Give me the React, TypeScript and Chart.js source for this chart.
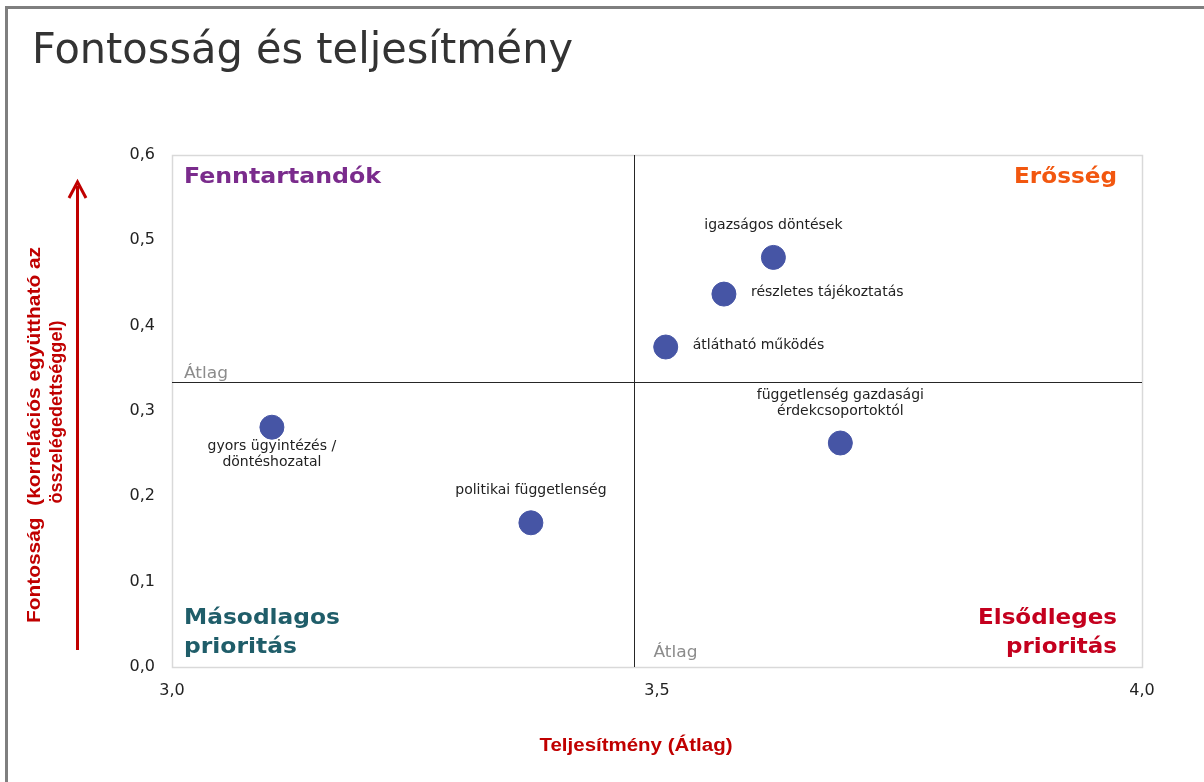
import React, { useEffect, useRef } from "react";
import { Chart, registerables } from "chart.js";

Chart.register(...registerables);

const chartTitle = "Fontosság és teljesítmény";
const itemLabels: string[][] = [
  ["igazságos döntések"],
  ["részletes tájékoztatás"],
  ["átlátható működés"],
  ["függetlenség gazdasági", "érdekcsoportoktól"],
  ["gyors ügyintézés /", "döntéshozatal"],
  ["politikai függetlenség"],
];
const performance = [3.62, 3.569, 3.509, 3.689, 3.103, 3.37];
const importance = [0.48, 0.437, 0.375, 0.2625, 0.281, 0.169];
const labelPlacement = ["above", "right", "right", "above", "below", "above"];
const avgPerformance = 3.476;
const avgImportance = 0.334;
const avgLabel = "Átlag";
const quadrantTopLeft = ["Fenntartandók"];
const quadrantTopRight = ["Erősség"];
const quadrantBottomLeft = ["Másodlagos", "prioritás"];
const quadrantBottomRight = ["Elsődleges", "prioritás"];
const yAxisTitle = ["Fontosság  (korrelációs együttható az", "összelégedettséggel)"];
const xAxisTitle = "Teljesítmény (Átlag)";
const xMin = 3.0, xMax = 4.0, xStep = 0.5;
const yMin = 0.0, yMax = 0.6, yStep = 0.1;

function fillFit(ctx: CanvasRenderingContext2D, text: string, x: number, y: number, font: string, width: number, align: CanvasTextAlign) {
  ctx.save();
  ctx.font = font;
  const w = ctx.measureText(text).width;
  const s = width / w;
  ctx.translate(x, y);
  ctx.scale(s, 1);
  ctx.textAlign = align;
  ctx.fillText(text, 0, 0);
  ctx.restore();
}

const decorPlugin = {
  id: "decor",
  beforeDatasetsDraw(chart: any) {
    const ctx: CanvasRenderingContext2D = chart.ctx;
    const { left, right, top, bottom } = chart.chartArea;
    const xs = chart.scales.x, ys = chart.scales.y;
    ctx.save();
    ctx.strokeStyle = "#d9d9d9";
    ctx.lineWidth = 1.5;
    ctx.strokeRect(left + 0.5, top + 0.5, right - left, bottom - top);
    const ax = Math.round(xs.getPixelForValue(avgPerformance)) + 0.5;
    const ay = Math.round(ys.getPixelForValue(avgImportance)) + 0.5;
    ctx.strokeStyle = "#262626";
    ctx.lineWidth = 1;
    ctx.beginPath();
    ctx.moveTo(ax, top); ctx.lineTo(ax, bottom);
    ctx.moveTo(left, ay); ctx.lineTo(right, ay);
    ctx.stroke();
    ctx.fillStyle = "#8c8c8c";
    ctx.textBaseline = "alphabetic";
    fillFit(ctx, avgLabel, left + 12, ay - 5, "16px 'DejaVu Sans'", 44, "left");
    fillFit(ctx, avgLabel, ax + 19, bottom - 10, "16px 'DejaVu Sans'", 44, "left");
    ctx.restore();
  },
  afterDatasetsDraw(chart: any) {
    const ctx: CanvasRenderingContext2D = chart.ctx;
    const { left, right, top, bottom } = chart.chartArea;
    const xs = chart.scales.x, ys = chart.scales.y;
    ctx.save();
    ctx.fillStyle = "#222222";
    ctx.font = "14px 'DejaVu Sans'";
    ctx.textBaseline = "middle";
    const lh = 16;
    for (let i = 0; i < performance.length; i++) {
      const px = xs.getPixelForValue(performance[i]);
      const py = ys.getPixelForValue(importance[i]);
      const lines = itemLabels[i];
      const pl = labelPlacement[i];
      lines.forEach((ln, k) => {
        if (pl === "above") {
          ctx.textAlign = "center";
          ctx.fillText(ln, px, py - 32 - (lines.length - 1 - k) * lh);
        } else if (pl === "below") {
          ctx.textAlign = "center";
          ctx.fillText(ln, px, py + 19 + k * lh);
        } else {
          ctx.textAlign = "left";
          ctx.fillText(ln, px + 27, py - 2 + k * lh);
        }
      });
    }
    ctx.textBaseline = "middle";
    const qf = "bold 22px 'DejaVu Sans'";
    ctx.fillStyle = "#7a2b8c";
    fillFit(ctx, quadrantTopLeft[0], left + 12, top + 22, qf, 197, "left");
    ctx.fillStyle = "#f2570f";
    fillFit(ctx, quadrantTopRight[0], right - 25, top + 22, qf, 103, "right");
    ctx.fillStyle = "#1f5d69";
    fillFit(ctx, quadrantBottomLeft[0], left + 12, bottom - 49, qf, 156, "left");
    fillFit(ctx, quadrantBottomLeft[1], left + 12, bottom - 20, qf, 113, "left");
    ctx.fillStyle = "#c4001e";
    fillFit(ctx, quadrantBottomRight[0], right - 25, bottom - 49, qf, 139, "right");
    fillFit(ctx, quadrantBottomRight[1], right - 25, bottom - 20, qf, 111, "right");
    ctx.restore();
  },
  afterDraw(chart: any) {
    const ctx: CanvasRenderingContext2D = chart.ctx;
    ctx.save();
    ctx.fillStyle = "#7f7f7f";
    ctx.fillRect(5, 6, 1204, 3);
    ctx.fillRect(5, 6, 3, 782);
    ctx.fillStyle = "#333333";
    ctx.textBaseline = "alphabetic";
    fillFit(ctx, chartTitle, 32, 63, "43px 'DejaVu Sans'", 541, "left");
    ctx.fillStyle = "#c00000";
    ctx.textBaseline = "middle";
    ctx.save();
    ctx.translate(35, 435);
    ctx.rotate(-Math.PI / 2);
    fillFit(ctx, yAxisTitle[0], 0, 0, "bold 18px 'Liberation Sans'", 376, "center");
    ctx.restore();
    ctx.save();
    ctx.translate(57, 412);
    ctx.rotate(-Math.PI / 2);
    fillFit(ctx, yAxisTitle[1], 0, 0, "bold 18px 'Liberation Sans'", 183, "center");
    ctx.restore();
    ctx.strokeStyle = "#c00000";
    ctx.fillStyle = "#c00000";
    ctx.lineWidth = 3;
    ctx.beginPath();
    ctx.moveTo(77.5, 650);
    ctx.lineTo(77.5, 186);
    ctx.stroke();
    ctx.beginPath();
    ctx.moveTo(69, 198);
    ctx.lineTo(77.5, 182);
    ctx.lineTo(86, 198);
    ctx.stroke();
    fillFit(ctx, xAxisTitle, 636, 746, "bold 18px 'Liberation Sans'", 193, "center");
    ctx.restore();
  },
};

const fmt = (v: any) => Number(v).toFixed(1).replace(".", ",");

export default function App() {
  const ref = useRef<HTMLCanvasElement | null>(null);
  useEffect(() => {
    if (!ref.current) return;
    const data = performance.map((x, i) => ({ x, y: importance[i] }));
    const chart = new Chart(ref.current, {
      type: "scatter",
      data: {
        datasets: [
          {
            data,
            backgroundColor: "#4655a5",
            borderColor: "#4655a5",
            pointRadius: 12,
            pointHoverRadius: 12,
          },
        ],
      },
      options: {
        animation: false,
        responsive: true,
        maintainAspectRatio: false,
        layout: { padding: { left: 0, top: 155, right: 62, bottom: 0 } },
        plugins: { legend: { display: false }, tooltip: { enabled: false }, title: { display: false } },
        scales: {
          x: {
            type: "linear",
            min: xMin,
            max: xMax,
            grid: { display: false, drawTicks: false },
            border: { display: false },
            ticks: { stepSize: xStep, padding: 14, color: "#222", font: { family: "'DejaVu Sans'", size: 16 }, callback: fmt, maxRotation: 0 },
            afterFit: (s: any) => { s.height = 115; },
          },
          y: {
            type: "linear",
            min: yMin,
            max: yMax,
            grid: { display: false, drawTicks: false },
            border: { display: false },
            ticks: { stepSize: yStep, padding: 17, color: "#222", font: { family: "'DejaVu Sans'", size: 16 }, callback: fmt },
            afterFit: (s: any) => { s.width = 172; },
          },
        },
      },
      plugins: [decorPlugin],
    } as any);
    return () => chart.destroy();
  }, []);
  return (
    <div style={{ position: "absolute", left: 0, top: 0, width: 1204, height: 782, background: "#fff" }}>
      <canvas ref={ref} />
    </div>
  );
}
